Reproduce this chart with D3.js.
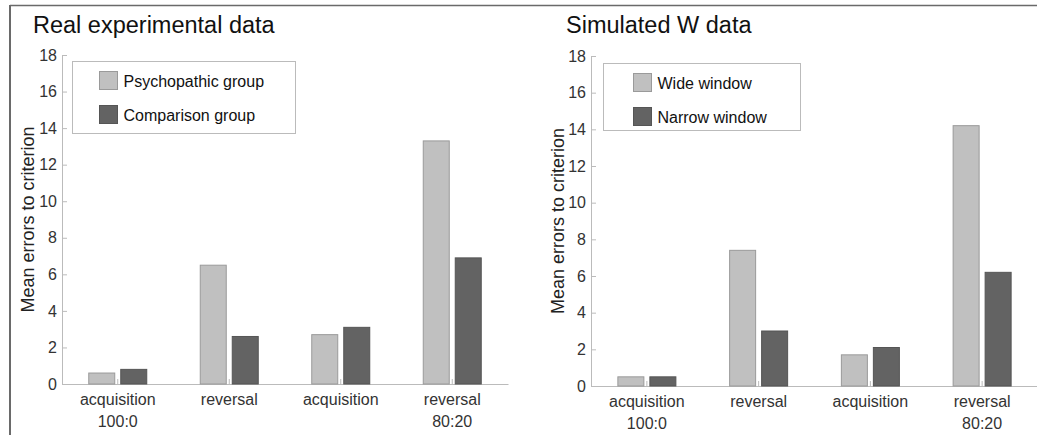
<!DOCTYPE html>
<html>
<head>
<meta charset="utf-8">
<script src="https://cdn.jsdelivr.net/npm/d3@7"></script>
<style>
  body { margin: 0; background: #fff; }
  svg { display: block; font-family: "Liberation Sans", Arial, sans-serif; }
</style>
</head>
<body>
<svg id="canvas" width="1037" height="435"></svg>
<script>
// categories along the x axis (two lines each)
const categories = ['acq100', 'rev100', 'acq80', 'rev80'];
const catLine1 = ['acquisition', 'reversal', 'acquisition', 'reversal'];
const catLine2 = ['100:0', '', '', '80:20'];

// left panel: real data
const psychopathic = [0.6, 6.5, 2.7, 13.3];
const comparison = [0.8, 2.6, 3.1, 6.9];

// right panel: simulated W data
const wideWindow = [0.5, 7.4, 1.7, 14.2];
const narrowWindow = [0.5, 3.0, 2.1, 6.2];

const yTicks = [0, 2, 4, 6, 8, 10, 12, 14, 16, 18];

const lightFill = '#c0c0c0', lightStroke = '#9a9a9a';
const darkFill = '#636363', darkStroke = '#555';

const svg = d3.select('#canvas');

// outer frame (top and left edges)
svg.append('line').attr('x1', 10).attr('x2', 1037).attr('y1', 5.5).attr('y2', 5.5)
  .attr('stroke', '#6a6a6a').attr('stroke-width', 1.5);
svg.append('line').attr('x1', 10).attr('x2', 10).attr('y1', 5).attr('y2', 435)
  .attr('stroke', '#6a6a6a').attr('stroke-width', 2);

function panel(opts) {
  const g = svg.append('g');
  const x = d3.scaleBand().domain(categories).range([opts.x0, opts.x1]).padding(0);
  const y = d3.scaleLinear().domain([0, 18]).range([opts.yBottom, opts.yTop]);

  // title
  g.append('text').attr('x', opts.titleX).attr('y', 33)
    .attr('font-size', 23.5).attr('fill', '#111').text(opts.title);

  // y axis with inward ticks
  const yAxis = g.append('g').attr('transform', `translate(${opts.x0},0)`)
    .call(d3.axisLeft(y).tickValues(yTicks).tickSizeInner(-5).tickSizeOuter(-5).tickPadding(5));
  yAxis.select('.domain').attr('stroke', '#bbb');
  yAxis.selectAll('.tick line').attr('stroke', '#bbb');
  yAxis.selectAll('.tick text').attr('font-size', 16).attr('fill', '#333')
    .attr('font-family', '"Liberation Sans", Arial, sans-serif');

  // x axis with inward ticks at category centres
  const xAxis = g.append('g').attr('transform', `translate(0,${opts.yBottom})`)
    .call(d3.axisBottom(x).tickSizeInner(-5).tickSizeOuter(0).tickFormat(''));
  xAxis.select('.domain').attr('stroke', '#bbb');
  xAxis.selectAll('.tick line').attr('stroke', '#bbb');

  // category labels
  categories.forEach((c, i) => {
    const cx = x(c) + x.bandwidth() / 2;
    g.append('text').attr('x', cx).attr('y', opts.yBottom + 21)
      .attr('text-anchor', 'middle').attr('font-size', 16).attr('fill', '#333').text(catLine1[i]);
    if (catLine2[i]) {
      g.append('text').attr('x', cx).attr('y', opts.yBottom + 43)
        .attr('text-anchor', 'middle').attr('font-size', 16).attr('fill', '#333').text(catLine2[i]);
    }
  });

  // y label
  g.append('text')
    .attr('transform', `translate(${opts.yLabelX},${(opts.yTop + opts.yBottom) / 2}) rotate(-90)`)
    .attr('text-anchor', 'middle').attr('font-size', 18).attr('fill', '#222')
    .text('Mean errors to criterion');

  // bars
  const bw = 26, off = 16;
  g.selectAll('rect.s1').data(opts.s1).enter().append('rect')
    .attr('x', (d, i) => x(categories[i]) + x.bandwidth() / 2 - off - bw / 2)
    .attr('y', d => y(d)).attr('width', bw).attr('height', d => y(0) - y(d))
    .attr('fill', lightFill).attr('stroke', lightStroke).attr('stroke-width', 1);
  g.selectAll('rect.s2').data(opts.s2).enter().append('rect')
    .attr('x', (d, i) => x(categories[i]) + x.bandwidth() / 2 + off - bw / 2)
    .attr('y', d => y(d)).attr('width', bw).attr('height', d => y(0) - y(d))
    .attr('fill', darkFill).attr('stroke', darkStroke).attr('stroke-width', 1);

  // legend
  const L = opts.legend;
  g.append('rect').attr('x', L.x).attr('y', L.y).attr('width', L.w).attr('height', L.h)
    .attr('fill', '#fff').attr('stroke', '#bbb');
  [[lightFill, lightStroke, opts.names[0]], [darkFill, darkStroke, opts.names[1]]].forEach((e, i) => {
    const sy = L.y + 10 + i * 34;
    g.append('rect').attr('x', L.sx).attr('y', sy).attr('width', 18).attr('height', 18)
      .attr('fill', e[0]).attr('stroke', e[1]);
    g.append('text').attr('x', L.sx + 24).attr('y', sy + 15).attr('font-size', 16)
      .attr('fill', '#111').text(e[2]);
  });
}

panel({
  title: 'Real experimental data', titleX: 33,
  x0: 62, x1: 508, yTop: 55, yBottom: 384, yLabelX: 34,
  s1: psychopathic, s2: comparison,
  names: ['Psychopathic group', 'Comparison group'],
  legend: { x: 72.5, y: 61.5, w: 223, h: 72, sx: 99.5 }
});

panel({
  title: 'Simulated W data', titleX: 566,
  x0: 591, x1: 1038, yTop: 56, yBottom: 386, yLabelX: 564,
  s1: wideWindow, s2: narrowWindow,
  names: ['Wide window', 'Narrow window'],
  legend: { x: 603.5, y: 63.5, w: 197, h: 67, sx: 633.5 }
});
</script>
</body>
</html>
